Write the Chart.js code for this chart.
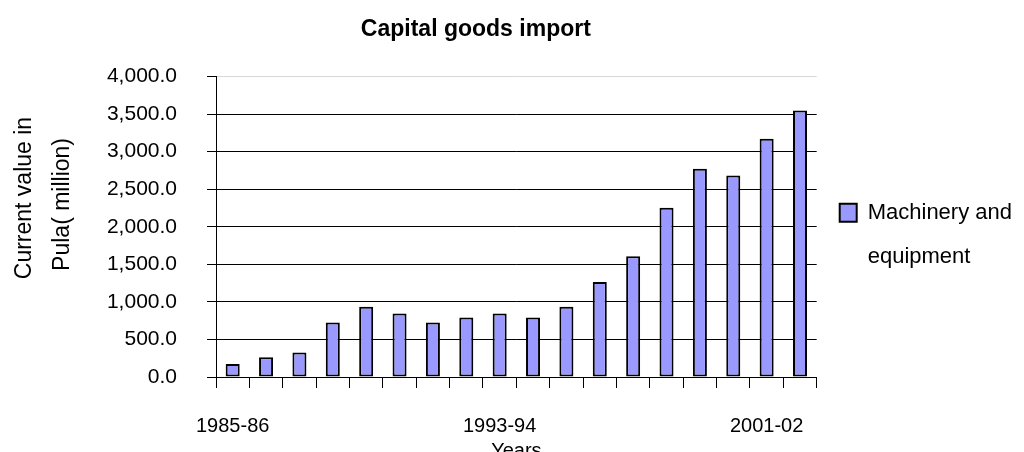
<!DOCTYPE html>
<html>
<head>
<meta charset="utf-8">
<script src="https://cdn.jsdelivr.net/npm/chart.js@4.4.1/dist/chart.umd.min.js"></script>
<style>
html,body{margin:0;padding:0;background:#fff;overflow:hidden;width:1024px;height:452px}
#wrap{position:relative;width:1024px;height:463px}
</style>
</head>
<body>
<div id="wrap"><canvas id="c"></canvas></div>
<script>
// ---- data ----
const years = ['1985-86','1986-87','1987-88','1988-89','1989-90','1990-91','1991-92','1992-93','1993-94',
               '1994-95','1995-96','1996-97','1997-98','1998-99','1999-00','2000-01','2001-02','2002-03'];
const machineryEquipment = [173, 264, 327, 727, 936, 845, 727, 791, 845, 791, 936, 1264, 1609, 2254, 2772, 2683, 3174, 3549];
const seriesName = ['Machinery and', 'equipment'];
const chartTitle = 'Capital goods import' + '\u00a0'.repeat(11);
const yTitle = ['         Current value in', '       Pula( million)'];
const xTitle = 'Years';
const yMin = 0, yMax = 4000, yStep = 500;
const labelEvery = 8;

const FONT = "'Liberation Sans', Arial, Helvetica, sans-serif";
const CANVAS_H = 463, PLOT_LEFT = 216, PLOT_BOTTOM = 377;

new Chart(document.getElementById('c'), {
  type: 'bar',
  data: {
    labels: years,
    datasets: [{
      label: seriesName.join(' '),
      data: machineryEquipment,
      backgroundColor: '#9999FF',
      borderColor: '#000000',
      borderWidth: 2,
      borderSkipped: false,
      categoryPercentage: 1.0,
      barPercentage: 0.42
    }]
  },
  options: {
    responsive: true,
    maintainAspectRatio: false,
    animation: false,
    devicePixelRatio: 1,
    layout: { padding: { left: 0, right: 2, top: 0, bottom: 0 } },
    plugins: {
      title: {
        display: true,
        text: chartTitle,
        color: '#000',
        font: { family: FONT, size: 23, weight: 'bold', lineHeight: 1.2 },
        padding: { top: 16, bottom: 33 }
      },
      legend: {
        position: 'right',
        align: 'center',
        title: { display: true, text: '', font: { size: 12, lineHeight: 1.2 }, padding: { top: 7, bottom: 7 } },
        labels: {
          color: '#000',
          boxWidth: 17,
          boxHeight: 18,
          padding: 23,
          font: { family: FONT, size: 22, lineHeight: 2.0 },
          generateLabels(chart) {
            const items = Chart.defaults.plugins.legend.labels.generateLabels(chart);
            items.forEach(it => { it.text = seriesName; it.lineWidth = 2; it.strokeStyle = '#000'; });
            return items;
          }
        }
      },
      tooltip: { enabled: false }
    },
    scales: {
      x: {
        offset: true,
        grid: { offset: true, drawOnChartArea: false, drawTicks: true, tickLength: 11, color: '#000' },
        border: { display: true, color: '#000', width: 1 },
        ticks: {
          autoSkip: false, maxRotation: 0, minRotation: 0,
          color: '#000', padding: 26,
          font: { family: FONT, size: 20 },
          callback: function (val, idx) { return idx % labelEvery === 0 ? this.getLabelForValue(val) : ''; }
        },
        title: {
          display: true, text: xTitle, color: '#000',
          font: { family: FONT, size: 20, lineHeight: 1.2 },
          padding: { top: 0, bottom: 0 }
        },
        afterFit(scale) { scale.height = CANVAS_H - PLOT_BOTTOM; }
      },
      y: {
        min: yMin, max: yMax,
        grid: {
          color: ctx => (ctx.tick && ctx.tick.value === yMax) ? '#d8d8d8' : '#000',
          tickColor: '#000', tickLength: 9, drawTicks: true, lineWidth: 1
        },
        border: { display: true, color: '#000', width: 1 },
        ticks: {
          stepSize: yStep, color: '#000', padding: 30,
          font: { family: FONT, size: 21 },
          callback: v => Number(v).toLocaleString('en-US', { minimumFractionDigits: 1, maximumFractionDigits: 1 })
        },
        title: {
          display: true, text: yTitle, color: '#000',
          font: { family: FONT, size: 23, lineHeight: 1.65 },
          padding: { top: 6, bottom: 0 }
        },
        afterFit(scale) { scale.width = PLOT_LEFT; }
      }
    }
  }
});
</script>
</body>
</html>
